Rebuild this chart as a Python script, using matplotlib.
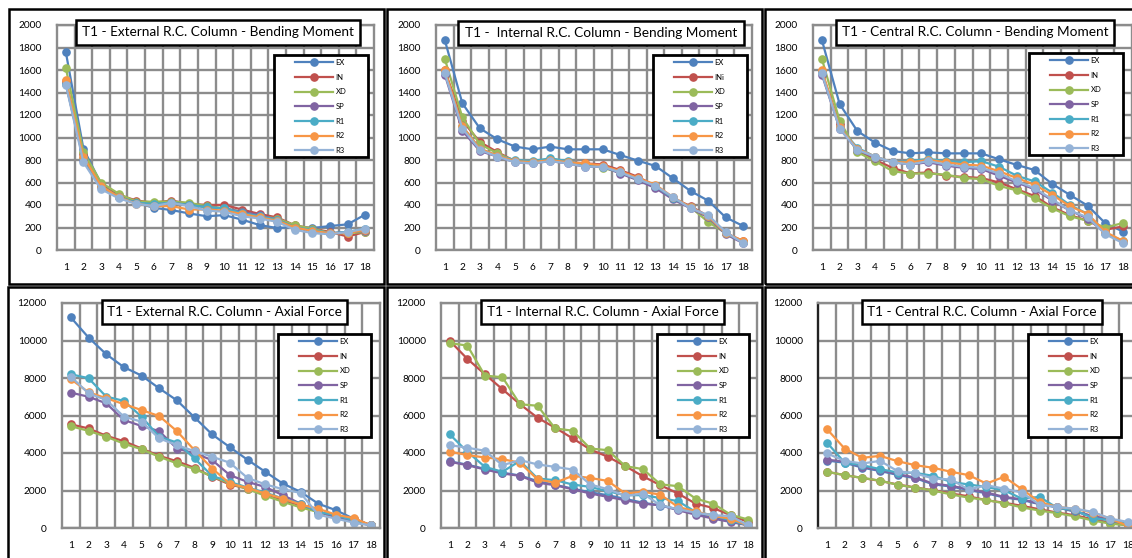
import numpy as np
import matplotlib
matplotlib.use("Agg")
import matplotlib.pyplot as plt
from matplotlib.patches import Rectangle

W, H = 1132, 558
storeys = list(range(1, 19))
series = ["EX", "IN", "XD", "SP", "R1", "R2", "R3"]
colors = ["#4F81BD", "#C0504D", "#9BBB59", "#8064A2", "#4BACC6", "#F79646", "#95B3D7"]

# bending moment, external column
ext_moment = {
    "EX": [1760, 900, 590, 470, 420, 375, 355, 325, 300, 310, 270, 222, 195, 205, 195, 213, 228, 315],
    "IN": [1500, 850, 590, 490, 440, 420, 440, 410, 400, 400, 360, 320, 290, 220, 190, 160, 120, 160],
    "XD": [1620, 870, 600, 500, 430, 430, 430, 420, 390, 370, 340, 300, 280, 220, 190, 150, 150, 160],
    "SP": [1480, 800, 560, 470, 420, 400, 420, 400, 380, 370, 340, 310, 270, 200, 170, 150, 160, 170],
    "R1": [1480, 820, 570, 470, 420, 410, 420, 400, 380, 370, 330, 300, 270, 200, 180, 150, 160, 190],
    "R2": [1510, 830, 570, 470, 410, 390, 390, 360, 360, 350, 320, 290, 260, 200, 170, 150, 150, 180],
    "R3": [1470, 780, 540, 460, 410, 390, 420, 390, 350, 340, 300, 280, 250, 180, 150, 140, 160, 190],
}

# bending moment, internal column
int_moment = {
    "EX": [1867, 1304, 1081, 984, 919, 895, 919, 895, 895, 895, 844, 794, 747, 637, 524, 439, 290, 213],
    "IN": [1600, 1150, 960, 870, 790, 780, 800, 780, 770, 760, 710, 650, 570, 460, 390, 300, 150, 80],
    "XD": [1700, 1180, 940, 860, 790, 780, 800, 780, 760, 730, 690, 630, 560, 460, 380, 250, 150, 70],
    "SP": [1560, 1060, 880, 830, 780, 770, 790, 770, 740, 740, 680, 620, 550, 450, 370, 290, 140, 60],
    "R1": [1580, 1100, 900, 840, 800, 790, 815, 790, 760, 740, 690, 630, 570, 460, 380, 300, 150, 70],
    "R2": [1600, 1100, 900, 840, 790, 780, 800, 780, 770, 750, 700, 640, 580, 470, 380, 300, 150, 80],
    "R3": [1570, 1080, 890, 830, 780, 770, 790, 770, 740, 740, 690, 630, 570, 470, 370, 310, 160, 60],
}

# bending moment, central column
cen_moment = {
    "EX": [1867, 1298, 1058, 954, 880, 859, 868, 859, 859, 859, 806, 756, 711, 587, 489, 394, 237, 163],
    "IN": [1580, 1120, 880, 800, 730, 680, 690, 660, 650, 640, 600, 540, 480, 380, 310, 260, 180, 210],
    "XD": [1700, 1150, 870, 790, 700, 680, 680, 670, 640, 630, 570, 530, 460, 370, 300, 260, 200, 240],
    "SP": [1560, 1080, 890, 820, 780, 760, 780, 750, 730, 720, 660, 600, 540, 440, 350, 280, 150, 70],
    "R1": [1580, 1090, 910, 830, 780, 790, 810, 790, 780, 790, 740, 660, 610, 510, 400, 320, 150, 80],
    "R2": [1600, 1090, 900, 830, 780, 780, 800, 780, 760, 750, 700, 640, 580, 490, 390, 320, 160, 80],
    "R3": [1570, 1080, 890, 830, 780, 760, 790, 760, 740, 730, 680, 610, 550, 450, 350, 290, 140, 60],
}

# axial force, external column
ext_axial = {
    "EX": [11230, 10160, 9270, 8580, 8130, 7450, 6810, 5900, 4990, 4310, 3640, 3000, 2370, 1930, 1300, 950, 500, 140],
    "IN": [5530, 5310, 4920, 4630, 4240, 3850, 3560, 3210, 2730, 2320, 2100, 1840, 1480, 1210, 860, 640, 500, 140],
    "XD": [5430, 5180, 4870, 4500, 4200, 3800, 3450, 3150, 2750, 2380, 2080, 1720, 1400, 1100, 850, 600, 380, 140],
    "SP": [7220, 7000, 6650, 5760, 5440, 5170, 4240, 3980, 3620, 2820, 2460, 2190, 1750, 1300, 860, 590, 320, 140],
    "R1": [8200, 7990, 7010, 6780, 5940, 4870, 4560, 3710, 2780, 2460, 2160, 1890, 1570, 1300, 860, 680, 410, 140],
    "R2": [7940, 7240, 6920, 6610, 6290, 5970, 5170, 4150, 3170, 2370, 2140, 1840, 1570, 1250, 1030, 710, 530, 140],
    "R3": [8080, 7180, 6830, 5940, 5670, 4780, 4420, 4100, 3800, 3480, 2670, 2330, 2070, 1870, 710, 500, 290, 140],
}

# axial force, internal column
int_axial = {
    "EX": [3550, 3380, 3150, 2950, 2800, 2500, 2300, 2100, 1900, 1750, 1550, 1350, 1200, 1000, 800, 550, 400, 140],
    "IN": [9980, 9020, 8200, 7400, 6600, 5880, 5350, 4780, 4190, 3800, 3300, 2760, 2280, 1840, 1300, 1070, 680, 320],
    "XD": [9860, 9730, 8130, 8040, 6600, 6520, 5310, 5190, 4240, 4150, 3300, 3140, 2330, 2230, 1570, 1300, 710, 450],
    "SP": [3530, 3350, 3120, 2910, 2780, 2420, 2280, 2070, 1840, 1660, 1480, 1300, 1210, 950, 710, 500, 320, 140],
    "R1": [4990, 4070, 3260, 3000, 3580, 2640, 2550, 2320, 2190, 1960, 1750, 1750, 1600, 1430, 860, 680, 410, 140],
    "R2": [4070, 3890, 3760, 3670, 3480, 2590, 2420, 2780, 2670, 2510, 1840, 1930, 1780, 1120, 890, 640, 500, 140],
    "R3": [4420, 4280, 4120, 3350, 3620, 3390, 3260, 3120, 2320, 2070, 1710, 1840, 1210, 1000, 820, 680, 640, 140],
}

# axial force, central column
cen_axial = {
    "EX": [3600, 3480, 3220, 3040, 2830, 2650, 2330, 2210, 2030, 1850, 1630, 1500, 1270, 1100, 870, 620, 430, 170],
    "IN": [3000, 2820, 2670, 2510, 2320, 2160, 2010, 1840, 1690, 1480, 1350, 1180, 1000, 820, 680, 460, 290, 140],
    "XD": [3000, 2820, 2670, 2530, 2300, 2150, 2000, 1790, 1620, 1490, 1320, 1100, 930, 790, 620, 400, 230, 140],
    "SP": [3650, 3530, 3260, 3080, 2870, 2690, 2370, 2250, 2070, 1890, 1660, 1530, 1300, 1120, 890, 640, 450, 180],
    "R1": [4560, 3490, 3350, 3140, 2960, 2940, 2780, 2460, 2320, 2190, 2010, 1570, 1660, 1070, 950, 530, 410, 230],
    "R2": [5280, 4240, 3740, 3850, 3560, 3350, 3210, 3000, 2820, 2370, 2730, 2070, 1390, 1120, 1030, 820, 500, 110],
    "R3": [3980, 3580, 3440, 3580, 3030, 2910, 2640, 2590, 2050, 2280, 2100, 1890, 1250, 1120, 1030, 860, 500, 320],
}

plt.rcParams["font.family"] = ["Lato", "DejaVu Sans"]
fig = plt.figure(figsize=(W / 100, H / 100), dpi=100)


def fig_box(l, t, r, b):
    return [l / W, 1 - b / H, (r - l) / W, (b - t) / H]


grid_col = "#8c8c8c"

# data, title, labels, ymax, step, plot area, panel frame, title box, legend box
panels = [
    (ext_moment, "T1 - External R.C. Column - Bending Moment", series, 2000, 200,
     (57, 25, 374, 250), (9, 9, 384, 284), (76, 20, 360, 45), (274, 55, 368, 157)),
    (int_moment, "T1 -  Internal R.C. Column - Bending Moment", ["EX", "INi", "XD", "SP", "R1", "R2", "R3"], 2000, 200,
     (436, 25, 752, 250), (386.5, 9, 762, 284), (458, 21, 744, 45), (653, 55, 747, 157)),
    (cen_moment, "T1 - Central R.C. Column - Bending Moment", series, 2000, 200,
     (813, 25, 1132, 250), (765, 9, 1145, 284), (836, 20, 1114, 45), (1029, 53, 1123, 155)),
    (ext_axial, "T1 - External R.C. Column - Axial Force", series, 12000, 2000,
     (62, 303, 380, 528), (8, 287, 384, 575), (102, 300, 347, 324), (278, 334, 371, 437)),
    (int_axial, "T1 - Internal R.C. Column - Axial Force", series, 12000, 2000,
     (441, 303, 757, 528), (386.5, 287, 762, 575), (481, 300, 724, 324), (657, 334, 749, 437)),
    (cen_axial, "T1 - Central R.C. Column - Axial Force", series, 12000, 2000,
     (818, 303, 1137, 528), (765, 287, 1145, 575), (862, 300, 1102, 324), (1028, 334, 1121, 437)),
]

for i, (data, title, labels, ymax, step, pbox, frame, tbox, lbox) in enumerate(panels):
    ax = fig.add_axes(fig_box(*pbox))
    for name, lab, c in zip(series, labels, colors):
        ax.plot(storeys, data[name], color=c, lw=1.6, marker="o", ms=5.2, label=lab)
    ax.set_xlim(0.5, 18.5)
    ax.set_ylim(0, ymax)
    ax.set_xticks(storeys)
    ax.set_xticks(np.arange(1.5, 18, 1), minor=True)
    ax.set_yticks(range(0, ymax + 1, step))
    ax.grid(which="minor", axis="x", color=grid_col, lw=1.7)
    ax.grid(which="major", axis="y", color=grid_col, lw=1.7)
    ax.set_axisbelow(True)
    ax.tick_params(which="both", length=0, labelsize=7.3)
    ax.tick_params(axis="y", pad=11)
    ax.tick_params(axis="x", pad=9)
    for sp in ax.spines.values():
        sp.set_color(grid_col)
        sp.set_linewidth(1.7)
    if i == 5:
        ax.spines["left"].set_color("#222222")

    # panel frame
    l, t, r, b = frame
    fig.add_artist(Rectangle((l / W, 1 - b / H), (r - l) / W, (b - t) / H, transform=fig.transFigure,
                             fill=False, ec="black", lw=1.8, zorder=5))
    # title box
    l, t, r, b = tbox
    fig.add_artist(Rectangle((l / W, 1 - b / H), (r - l) / W, (b - t) / H, transform=fig.transFigure,
                             fc="white", ec="black", lw=1.8, zorder=6))
    fig.text((l + r) / 2 / W, 1 - (t + b) / 2 / H, title, ha="center", va="center",
             fontsize=9.8, zorder=7)
    # legend box
    l, t, r, b = lbox
    fig.add_artist(Rectangle((l / W, 1 - b / H), (r - l) / W, (b - t) / H, transform=fig.transFigure,
                             fc="white", ec="black", lw=2, zorder=6))
    leg = ax.legend(loc="upper left", bbox_to_anchor=((l + 21) / W, 1 - (t + 4) / H),
                    bbox_transform=fig.transFigure, frameon=False, fontsize=5.5,
                    handlelength=5.0, handletextpad=0.3, labelspacing=1.0,
                    borderpad=0, borderaxespad=0)
    leg.set_zorder(8)
    fig.add_artist(leg)

fig.savefig("out.png", dpi=100)
